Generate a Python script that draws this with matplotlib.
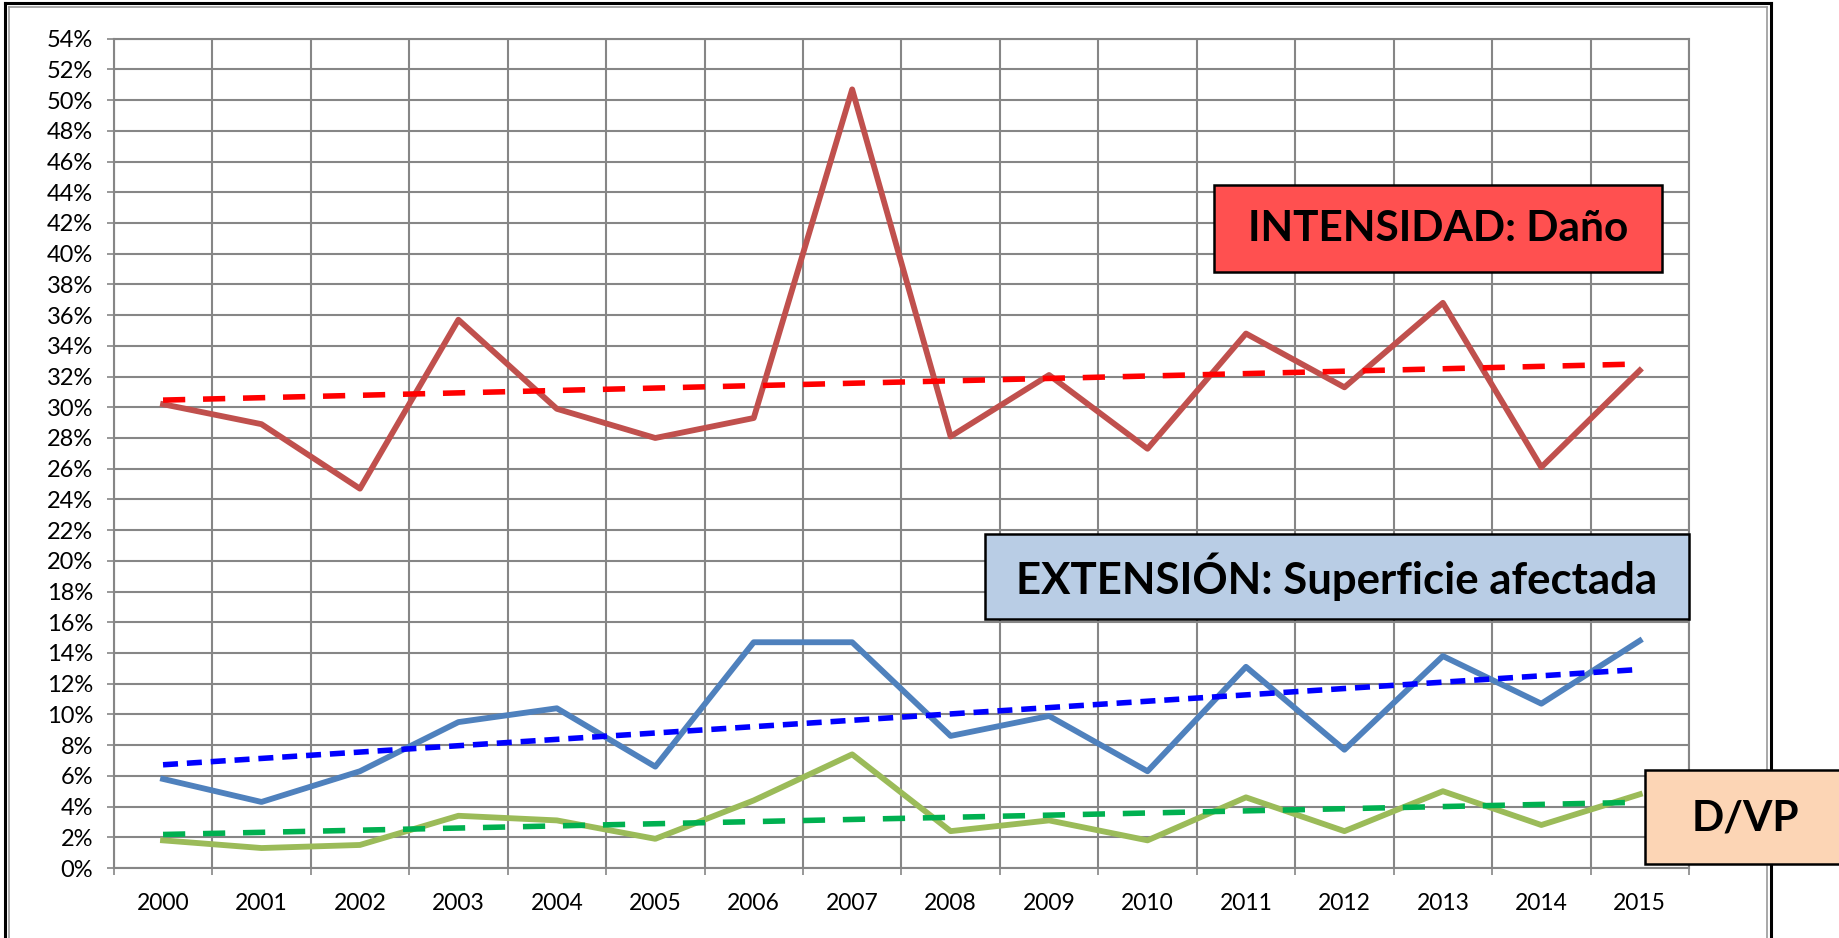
import numpy as np
import matplotlib
matplotlib.use('Agg')
import matplotlib.pyplot as plt
from matplotlib.patches import Rectangle
from matplotlib.lines import Line2D
from matplotlib.ticker import PercentFormatter, MultipleLocator, FixedLocator

plt.rcParams['font.family'] = ['Lato', 'DejaVu Sans']

years = ['2000', '2001', '2002', '2003', '2004', '2005', '2006', '2007',
         '2008', '2009', '2010', '2011', '2012', '2013', '2014', '2015']
# valores en %
intensidad = [30.2, 28.9, 24.7, 35.7, 29.9, 28.0, 29.3, 50.7,
              28.1, 32.1, 27.3, 34.8, 31.3, 36.8, 26.1, 32.4]
extension = [5.8, 4.3, 6.3, 9.5, 10.4, 6.6, 14.7, 14.7,
             8.6, 9.9, 6.3, 13.1, 7.7, 13.8, 10.7, 14.8]
d_vp = [1.8, 1.3, 1.5, 3.4, 3.1, 1.9, 4.4, 7.4,
        2.4, 3.1, 1.8, 4.6, 2.4, 5.0, 2.8, 4.8]

W, H = 1839, 938
GRID = '#868686'

fig = plt.figure(figsize=(W / 100, H / 100), dpi=100)
ax = fig.add_axes([113.8 / W, 1 - 868 / H, (1689 - 113.8) / W, (868 - 38.7) / H])

x = np.arange(len(years))

series = [(intensidad, '#C0504D', '#FF0000', (4.0, 3.2)),
          (extension, '#4F81BD', '#0000FF', (2.7, 1.6)),
          (d_vp, '#9BBB59', '#00B050', (4.0, 3.2))]

for vals, col, tcol, dash in series:
    ax.plot(x, vals, color=col, lw=4.2, solid_joinstyle='round', zorder=3)
for vals, col, tcol, dash in series:
    # linea de tendencia (lineal, como Excel)
    a, b = np.polyfit(x, vals, 1)
    xt = np.array([x[0], x[-1]])
    ax.plot(xt, a * xt + b, color=tcol, lw=4.0, dashes=dash, zorder=4)

ax.set_xlim(-0.5, len(years) - 0.5)
ax.set_ylim(0, 54)
ax.yaxis.set_major_locator(MultipleLocator(2))
ax.yaxis.set_major_formatter(PercentFormatter(xmax=100, decimals=0))

ax.xaxis.set_major_locator(FixedLocator(np.arange(-0.5, len(years), 1.0)))
ax.xaxis.set_minor_locator(FixedLocator(x))
ax.set_xticklabels([], minor=False)
ax.set_xticklabels(years, minor=True)
ax.tick_params(axis='x', which='major', length=5, width=1.2, color=GRID)
ax.tick_params(axis='x', which='minor', length=0, pad=18, labelsize=16.5)
ax.tick_params(axis='y', length=5, width=1.2, color=GRID, pad=10, labelsize=17)

ax.grid(True, which='major', color=GRID, lw=1.5)
ax.set_axisbelow(True)
for s in ax.spines.values():
    s.set_color(GRID)
    s.set_linewidth(1.5)


def fbox(x0, y0, x1, y1, fc):
    fig.add_artist(Rectangle((x0 / W, 1 - y1 / H), (x1 - x0) / W, (y1 - y0) / H,
                             transform=fig.transFigure, fc=fc, ec='black', lw=1.8,
                             zorder=5, clip_on=False))


fbox(1214, 185, 1662, 272, '#FF5050')
fig.text(1438 / W, 1 - 229 / H, 'INTENSIDAD: Daño', ha='center', va='center',
         fontsize=30.5, fontweight='bold', zorder=6)

fbox(985, 534, 1689, 619, '#B9CDE5')
fig.text(1337 / W, 1 - 577 / H, 'EXTENSIÓN: Superficie afectada', ha='center', va='center',
         fontsize=31.5, fontweight='bold', zorder=6)

fbox(1645, 770, 1860, 864, '#FCD5B5')
fig.text(1745 / W, 1 - 818 / H, 'D/VP', ha='center', va='center',
         fontsize=30.5, fontweight='bold', zorder=6)

# marco doble
for px, lw, col in [(5, 2.2, 'black'), (9, 1.2, '#9A9A9A')]:
    fig.add_artist(Line2D([px / W, px / W], [0, 1 - (px - 2) / H], color=col, lw=lw,
                          transform=fig.transFigure, zorder=0))
for px, lw, col in [(1771, 2.2, 'black'), (1767, 1.2, '#9A9A9A')]:
    o = 1771 - px
    fig.add_artist(Line2D([px / W, px / W], [0, 1 - (3 + o) / H], color=col, lw=lw,
                          transform=fig.transFigure, zorder=0))
fig.add_artist(Line2D([5 / W, 1771 / W], [1 - 3 / H, 1 - 3 / H], color='black', lw=2.2,
                      transform=fig.transFigure, zorder=0))
fig.add_artist(Line2D([9 / W, 1767 / W], [1 - 7 / H, 1 - 7 / H], color='#9A9A9A', lw=1.2,
                      transform=fig.transFigure, zorder=0))

fig.savefig('out.png', dpi=100, facecolor='white')
